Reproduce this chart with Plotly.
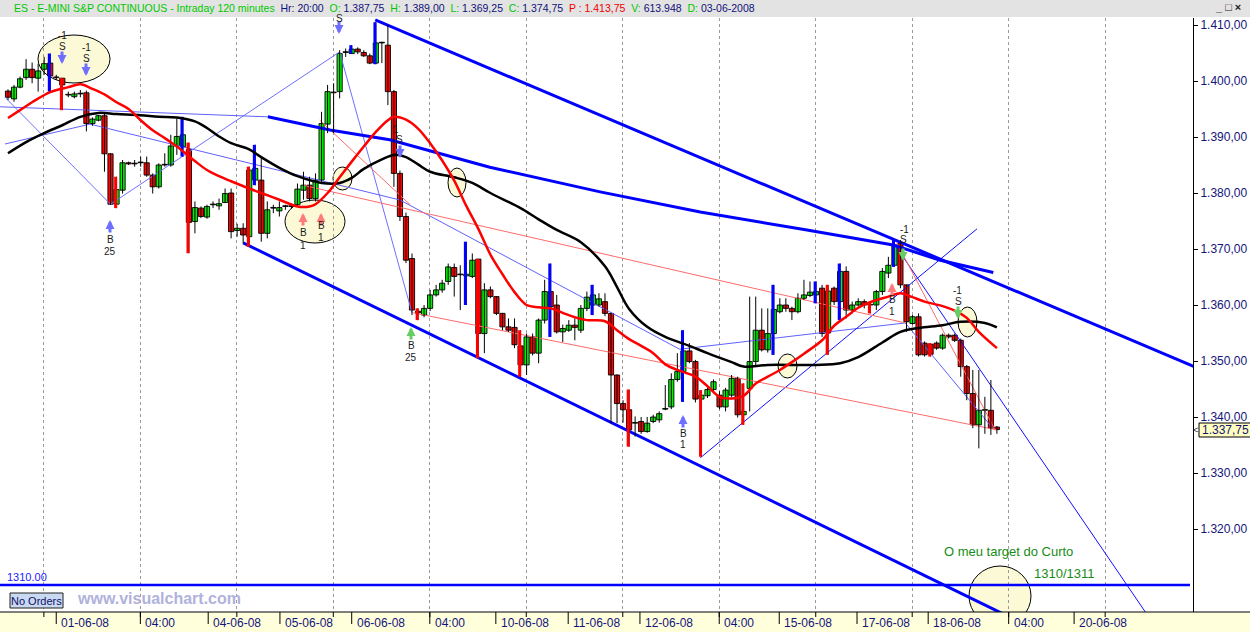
import plotly.graph_objects as go

# ---------------- DATA ----------------
opens = [1398.2,1396.8,1398.9,1400.6,1402.1,1400.5,1402.1,1403.2,1400.7,1400.5,
1397.6,1397.2,1397.7,1397.9,1392.4,1393.0,1393.8,1387.0,1378.0,1380.5,
1385.4,1385.2,1385.4,1385.4,1383.2,1381.1,1385.0,1385.0,1388.4,1388.3,
1387.75,1374.9,1377.3,1375.7,1377.9,1377.7,1378.3,1380.0,1373.3,1373.7,
1372.2,1382.3,1382.3,1372.8,1377.3,1376.8,1377.6,1377.6,1377.9,1380.5,
1381.4,1379.0,1382.3,1392.3,1398.0,1398.1,1405.1,1404.9,1405.7,1405.1,
1404.5,1403.2,1406.8,1406.4,1398.1,1383.5,1375.8,1368.3,1358.9,1358.2,
1359.4,1361.8,1362.7,1364.2,1366.7,1365.5,1365.2,1365.1,1368.2,1354.9,
1362.7,1361.5,1358.5,1356.1,1356.0,1352.7,1349.3,1354.3,1351.4,1357.3,
1362.4,1360.0,1355.2,1355.5,1356.4,1355.5,1359.4,1360.0,1360.0,1360.6,
1358.5,1347.5,1342.4,1341.3,1338.9,1339.2,1337.4,1339.2,1339.5,1341.4,
1341.8,1346.7,1348.1,1351.8,1349.9,1343.2,1343.8,1344.9,1343.9,1341.8,
1343.9,1346.9,1340.4,1345.1,1349.9,1355.5,1352.0,1354.9,1358.8,1360.0,
1359.4,1358.8,1361.2,1361.7,1361.8,1363.0,1355.0,1363.0,1360.6,1366.0,
1359.1,1360.0,1360.6,1360.0,1360.0,1362.4,1365.7,1367.1,1371.0,1363.6,
1356.7,1357.9,1353.2,1353.0,1353.2,1352.3,1354.6,1354.6,1353.7,1349.0,
1344.2,1338.6,1341.2,1341.2,1338.2]
highs = [1398.5,1399.3,1400.8,1403.9,1403.3,1403.1,1404.3,1404.9,1401.1,1400.5,
1398.1,1398.1,1398.4,1398.3,1393.5,1393.9,1394.2,1387.1,1382.9,1385.9,
1385.6,1385.9,1386.5,1386.5,1383.5,1385.3,1387.1,1390.4,1393.3,1393.6,
1389.0,1378.5,1377.6,1377.9,1378.5,1379.0,1380.8,1380.8,1374.5,1374.6,
1384.7,1388.6,1386.5,1378.5,1377.9,1378.5,1377.9,1378.2,1381.7,1383.8,
1382.9,1383.5,1394.5,1399.3,1399.6,1405.5,1405.8,1406.4,1406.0,1405.5,
1404.9,1410.5,1407.0,1410.0,1398.4,1384.0,1376.5,1369.2,1359.4,1360.0,
1362.7,1363.6,1364.5,1367.4,1367.4,1367.1,1371.3,1369.2,1368.2,1363.9,
1363.3,1361.6,1358.6,1357.6,1357.6,1355.5,1354.9,1354.9,1357.6,1364.5,
1367.4,1361.8,1356.5,1357.3,1357.6,1360.0,1362.4,1363.6,1362.1,1362.1,
1358.6,1347.6,1343.0,1344.9,1340.1,1340.0,1340.0,1340.4,1341.0,1345.7,
1347.8,1351.4,1355.5,1353.2,1350.2,1344.8,1345.2,1346.7,1344.6,1345.2,
1347.5,1347.2,1346.0,1361.5,1361.5,1359.4,1359.4,1363.6,1361.2,1361.2,
1359.7,1362.1,1364.5,1364.2,1364.2,1363.6,1363.6,1363.3,1367.4,1366.9,
1360.6,1361.2,1361.0,1360.6,1362.7,1366.6,1368.6,1371.6,1371.6,1363.6,
1358.2,1358.5,1353.5,1353.2,1353.5,1354.9,1354.9,1354.9,1354.0,1349.3,
1348.4,1348.4,1343.6,1346.6,1338.4]
lows = [1396.6,1396.3,1398.7,1400.2,1399.6,1398.1,1401.1,1398.1,1400.2,1394.8,
1397.1,1396.9,1397.1,1391.0,1392.0,1392.8,1383.8,1377.9,1377.3,1379.9,
1385.0,1384.7,1384.7,1382.9,1379.9,1380.8,1384.7,1384.7,1386.8,1386.5,
1369.25,1372.8,1375.5,1375.4,1377.3,1377.0,1378.2,1371.9,1372.2,1371.0,
1370.4,1381.4,1371.3,1371.9,1376.4,1375.8,1377.0,1377.2,1377.6,1378.8,
1378.5,1378.5,1381.7,1390.7,1390.7,1396.9,1404.3,1404.9,1404.8,1404.3,
1403.0,1403.0,1403.2,1395.7,1381.1,1375.0,1367.5,1358.2,1357.3,1357.8,
1358.9,1361.5,1362.2,1363.6,1361.5,1359.1,1360.0,1364.8,1350.5,1351.4,
1361.2,1358.2,1355.5,1355.2,1352.3,1347.2,1347.5,1351.0,1349.6,1356.7,
1354.3,1354.9,1353.4,1355.2,1353.7,1355.0,1358.9,1358.2,1359.7,1358.0,
1338.9,1338.9,1339.0,1334.7,1336.5,1337.0,1337.2,1338.9,1339.0,1341.2,
1341.4,1346.3,1342.7,1349.6,1342.6,1332.9,1343.4,1344.6,1341.4,1341.0,
1343.5,1339.9,1338.6,1341.0,1349.0,1351.7,1351.5,1351.1,1358.5,1358.8,
1357.3,1358.5,1360.9,1361.4,1360.3,1354.3,1351.1,1360.0,1357.3,1357.6,
1358.5,1359.7,1359.4,1358.5,1359.1,1361.8,1364.8,1366.8,1363.0,1355.2,
1356.5,1350.8,1350.8,1350.8,1352.0,1352.0,1354.0,1353.4,1347.2,1343.0,
1338.0,1334.4,1337.0,1336.8,1337.0]
closes = [1397.1,1398.9,1400.4,1402.1,1400.6,1401.8,1403.1,1400.9,1400.6,1399.3,
1397.5,1397.7,1397.7,1392.4,1393.2,1393.8,1387.0,1378.0,1380.6,1385.4,
1385.2,1385.2,1385.4,1383.2,1381.1,1385.0,1385.0,1388.4,1390.1,1390.4,
1374.75,1377.4,1375.8,1377.6,1377.9,1378.1,1379.9,1373.1,1373.7,1372.5,
1384.1,1384.4,1372.8,1377.0,1377.3,1377.4,1377.6,1377.6,1380.7,1381.4,
1379.0,1382.3,1392.4,1398.1,1397.9,1404.9,1405.1,1405.7,1405.2,1404.5,
1403.2,1406.8,1406.8,1398.1,1383.5,1375.8,1368.0,1359.1,1358.6,1359.4,
1361.8,1362.7,1363.9,1366.8,1365.1,1365.4,1365.5,1368.0,1354.9,1362.7,
1361.5,1358.5,1356.1,1355.5,1352.9,1349.3,1354.3,1351.4,1357.3,1362.4,
1359.7,1355.2,1355.8,1356.4,1356.0,1359.4,1361.4,1361.8,1361.1,1358.5,
1347.5,1342.4,1341.3,1337.7,1339.0,1337.4,1338.9,1340.0,1340.6,1341.5,
1346.7,1348.1,1351.8,1349.9,1343.2,1343.9,1344.9,1346.3,1341.8,1344.8,
1346.9,1340.4,1341.0,1349.9,1355.5,1352.0,1354.9,1359.2,1360.0,1359.4,
1358.8,1361.2,1361.8,1362.3,1362.4,1354.9,1362.5,1360.6,1366.0,1359.1,
1360.0,1360.6,1360.0,1360.1,1362.4,1366.0,1367.1,1370.7,1363.6,1357.0,
1357.9,1351.1,1351.1,1351.2,1352.3,1354.6,1354.3,1353.7,1349.0,1344.2,
1338.6,1341.2,1341.3,1338.0,1337.75]

blue_mark_bars = [7, 29, 41, 57, 61, 76, 90, 97, 112, 127, 134, 138, 147]
red_mark_bars = [9, 18, 30, 40, 68, 78, 85, 103, 115, 122, 136, 143, 153]

ma_red_x = [0,2,4,7,10,12,14,16,18,20,22,24,26,28,31,33,35,37,40,42,45,48,50,51,53,55,57,59,61,63,64,66,68,70,72,74,76,78,80,82,84,86,88,90,92,94,96,99,101,103,105,107,109,111,114,116,118,120,122,124,126,128,130,132,135,137,139,141,143,146,148,150,152,155,157,159,161,164]
ma_red_y = [1393.4,1394.8,1396.2,1398.0,1398.9,1399.4,1398.6,1397.6,1396.2,1395.0,1393.0,1391.2,1389.8,1388.3,1385.7,1384.1,1383.0,1382.1,1380.8,1380.0,1378.8,1377.6,1377.6,1378.0,1380.0,1382.8,1385.6,1388.3,1390.9,1393.0,1393.6,1393.1,1391.5,1388.9,1385.8,1382.2,1377.7,1373.6,1369.0,1365.5,1362.3,1360.0,1359.6,1359.4,1358.6,1357.8,1357.3,1357.1,1355.5,1353.9,1352.7,1351.4,1349.4,1348.4,1347.2,1345.5,1343.6,1343.3,1343.8,1346.0,1347.2,1348.4,1349.8,1351.3,1353.7,1356.3,1357.9,1359.5,1360.5,1361.5,1362.1,1361.4,1360.6,1359.8,1359.0,1357.7,1355.2,1352.3]
ma_black_x = [0,3,6,9,12,15,18,22,25,28,31,33,35,37,40,42,45,48,52,55,57,59,62,64,66,68,70,74,77,80,85,88,91,95,99,101,103,106,109,113,116,120,122,126,134,138,141,145,148,151,155,158,162,164]
ma_black_y = [1387.1,1389.1,1390.7,1392.1,1393.6,1394.3,1394.1,1393.9,1393.6,1393.5,1392.8,1391.6,1390.1,1388.9,1387.8,1386.4,1384.5,1383.0,1381.8,1381.8,1382.7,1384.3,1386.0,1386.8,1386.4,1385.1,1383.8,1382.8,1381.8,1380.0,1377.3,1375.3,1373.4,1371.2,1366.9,1363.2,1359.3,1356.1,1354.3,1352.7,1351.4,1349.8,1349.0,1349.3,1349.3,1349.6,1350.7,1353.3,1355.2,1355.9,1356.4,1357.0,1356.8,1356.0]
ma_blue_x = [43.1,53.4,63.3,79.9,98.2,114.8,132.5,146.8,154.6,163.4]
ma_blue_y = [1393.6,1391.25,1389.5,1384.6,1380.2,1376.6,1373.4,1370.7,1368.0,1365.8]

channel_upper_x = [60.9, 200.0]
channel_upper_y = [1410.9, 1347.5]
channel_lower_x = [39.0, 175.0]
channel_lower_y = [1371.1, 1299.6]

zigzag_x = [-0.5, 17.0, 55.0, 67.0]
zigzag_y = [1397.1, 1378.0, 1405.2, 1358.6]
thin_lead_x = [-1.4, 43.1]
thin_lead_y = [1395.4, 1393.6]
thin_path_x = [-0.5, 13.6, 65.0, 111.4, 148.8, 163.3]
thin_path_y = [1388.75, 1392.3, 1378.75, 1352.1, 1356.8, 1338.0]
rising_x = [114.8, 160.7]
rising_y = [1332.7, 1373.6]
steep_x = [147.1, 188.6]
steep_y = [1370.7, 1305.2]
red_lines = [([67.2, 164.0], [1358.6, 1337.7]),
             ([48.9, 148.8], [1381.4, 1356.8]),
             ([147.4, 163.7], [1371.1, 1337.7]),
             ([51.7, 66.7], [1393.0, 1377.9])]

target_level = 1310.0
last_price = 1337.75
y_ticks = [1320, 1330, 1340, 1350, 1360, 1370, 1380, 1390, 1400, 1410]
y_ticktext = ["1.320,00", "1.330,00", "1.340,00", "1.350,00", "1.360,00",
              "1.370,00", "1.380,00", "1.390,00", "1.400,00", "1.410,00"]
x_label_pos = [8.0, 21.95, 33.2, 45.1, 57.0, 69.95, 80.9, 92.9, 104.8, 117.95, 127.9, 140.8, 152.6, 165.95, 176.8]
x_label_text = ["01-06-08", "04:00", "04-06-08", "05-06-08", "06-06-08", "04:00", "10-06-08",
                "11-06-08", "12-06-08", "04:00", "15-06-08", "17-06-08", "18-06-08", "04:00", "20-06-08"]
grid_bars = [5.95, 21.95, 37.95, 53.95, 69.95, 85.95, 101.95, 117.95, 133.95, 149.95, 165.95, 181.95]

# ---------------- GEOMETRY ----------------
W, H = 1250, 632
ML, MR, MT, MB = 0, 57, 18, 20
PW, PH = W - ML - MR, H - MT - MB
PXB = 6.03   # px per bar
PXP = 5.6    # px per point
X0 = -8 / PXB
X1 = X0 + PW / PXB
Y1 = 1410 + (25 - MT) / PXP
Y0 = Y1 - PH / PXP

def dx(px):
    return X0 + (px - ML) / PXB

def dy(py):
    return Y1 - (py - MT) / PXP

def ppx(px):
    return (px - ML) / PW

def ppy(py):
    return (H - MB - py) / PH

FONT = "Arial, Liberation Sans, sans-serif"
NAVY = "#14147a"

fig = go.Figure()

def add_line(xs, ys, color, width, shape="linear"):
    fig.add_trace(go.Scatter(x=xs, y=ys, mode="lines", line=dict(color=color, width=width, shape=shape),
                             hoverinfo="skip", showlegend=False))

# thin drawing lines
add_line(zigzag_x, zigzag_y, "#7070ff", 1)
add_line(thin_lead_x, thin_lead_y, "#6060ff", 1)
add_line(thin_path_x, thin_path_y, "#6060ff", 1)
add_line(rising_x, rising_y, "#1010ff", 1)
add_line(steep_x, steep_y, "#1010ff", 1)
for xs, ys in red_lines:
    add_line(xs, ys, "#ff6a6a", 1)

# channel
add_line(channel_upper_x, channel_upper_y, "#0000ff", 3)
add_line(channel_lower_x, channel_lower_y, "#0000ff", 3)
add_line(ma_blue_x, ma_blue_y, "#0000ff", 3)

# candles: wicks
n = len(opens)
wx, wy = [], []
for i in range(n):
    hi = max(highs[i], opens[i], closes[i])
    lo = min(lows[i], opens[i], closes[i])
    wx += [i, i, None]
    wy += [lo, hi, None]
fig.add_trace(go.Scatter(x=wx, y=wy, mode="lines", line=dict(color="black", width=1),
                         hoverinfo="skip", showlegend=False))
# bodies
bases, heights, cols = [], [], []
for i in range(n):
    o, c = opens[i], closes[i]
    bases.append(min(o, c))
    heights.append(max(abs(c - o), 0.12))
    cols.append("#00f000" if c > o else ("#ff0000" if c < o else "black"))
fig.add_trace(go.Bar(x=list(range(n)), y=heights, base=bases, width=0.86, opacity=1,
                     marker=dict(color=cols, opacity=1, line=dict(color="black", width=0.9)),
                     hoverinfo="skip", showlegend=False))

# painted bar marks
def marks(idx, color):
    mx, my = [], []
    for i in idx:
        mx += [i - 0.15, i - 0.15, None]
        my += [lows[i], highs[i], None]
    fig.add_trace(go.Scatter(x=mx, y=my, mode="lines", line=dict(color=color, width=3),
                             hoverinfo="skip", showlegend=False))
marks(blue_mark_bars, "#0000ff")
marks(red_mark_bars, "#ff0000")

# moving averages
add_line(ma_black_x, ma_black_y, "black", 2.5, "spline")
add_line(ma_red_x, ma_red_y, "#ff0000", 2.5, "spline")

shapes = []
# ellipses (px boxes)
for (a, b, c, d) in [(38, 35, 110, 83), (285, 200, 345, 243), (333, 167, 352, 190), (448, 168, 466, 197),
                     (778, 354, 797, 378), (958, 307, 977, 337), (969, 566, 1031, 626)]:
    shapes.append(dict(type="circle", xref="x", yref="y", x0=dx(a), x1=dx(c), y0=dy(d), y1=dy(b),
                       fillcolor="#fbf9d6", line=dict(color="black", width=1), layer="below"))
# target line
shapes.append(dict(type="line", xref="x", yref="y", x0=X0, x1=dx(1190), y0=target_level, y1=target_level,
                   line=dict(color="#0000ff", width=2.5)))
# header bar
shapes.append(dict(type="rect", xref="paper", yref="paper", x0=ppx(0), x1=ppx(W), y0=ppy(17), y1=ppy(0),
                   fillcolor="#e3e3e3", line=dict(width=0), layer="above"))
# bottom band
shapes.append(dict(type="rect", xref="paper", yref="paper", x0=ppx(0), x1=ppx(W), y0=ppy(H), y1=ppy(612.5),
                   fillcolor="#ffffdc", line=dict(width=0), layer="above"))
shapes.append(dict(type="line", xref="paper", yref="paper", x0=ppx(0), x1=ppx(W), y0=ppy(612), y1=ppy(612),
                   line=dict(color="black", width=1), layer="above"))
# axis ticks in band
for g in grid_bars:
    shapes.append(dict(type="line", xref="x", yref="paper", x0=g, x1=g, y0=ppy(612), y1=ppy(617),
                       line=dict(color="black", width=1), layer="above"))
for p in x_label_pos:
    shapes.append(dict(type="line", xref="x", yref="paper", x0=p, x1=p, y0=ppy(612), y1=ppy(624),
                       line=dict(color="black", width=1), layer="above"))
# no orders box
shapes.append(dict(type="rect", xref="paper", yref="paper", x0=ppx(10), x1=ppx(63), y0=ppy(608), y1=ppy(593),
                   fillcolor="#c9d9ef", line=dict(color="#202020", width=1), layer="above"))
# price tag
shapes.append(dict(type="rect", xref="paper", yref="paper", x0=ppx(1199), x1=ppx(1252), y0=ppy(437), y1=ppy(423),
                   fillcolor="#ffffc0", line=dict(color="black", width=1), layer="above"))

ann = []
def txt(px, py, s, size=10, color="#1a1a1a", anchor="center", bold=False):
    ann.append(dict(xref="paper", yref="paper", x=ppx(px), y=ppy(py), text=("<b>%s</b>" % s) if bold else s,
                    showarrow=False, xanchor=anchor, yanchor="middle",
                    font=dict(family=FONT, size=size, color=color)))

def arrow(px, tip, color, down=True):
    ann.append(dict(xref="paper", yref="paper", x=ppx(px), y=ppy(tip), ax=0, ay=(-14 if down else 14),
                    text="", showarrow=True, arrowhead=2, arrowsize=0.6, arrowwidth=3, arrowcolor=color))

# header
g, nv, rd = "#00c800", "#10107a", "#ee0000"
sp = "\u00a0"
header = ("<span style='color:%s'>ES - E-MINI S&amp;P CONTINUOUS - Intraday 120 minutes</span>%s"
          "<span style='color:%s'>Hr: 20:00</span>%s"
          "<span style='color:%s'>O:</span> <span style='color:%s'>1.387,75</span>%s"
          "<span style='color:%s'>H:</span> <span style='color:%s'>1.389,00</span>%s"
          "<span style='color:%s'>L:</span> <span style='color:%s'>1.369,25</span>%s"
          "<span style='color:%s'>C:</span> <span style='color:%s'>1.374,75</span>%s"
          "<span style='color:%s'>P : 1.413,75</span>%s"
          "<span style='color:%s'>V:</span> <span style='color:%s'>613.948</span>%s"
          "<span style='color:%s'>D:</span> <span style='color:%s'>03-06-2008</span>") % (
    g, sp * 2, nv, sp * 2, g, nv, sp * 2, g, nv, sp * 2, g, nv, sp * 2, g, nv, sp * 2, rd, sp * 2,
    g, nv, sp * 2, g, nv)
txt(12, 8.5, header, size=10.5, anchor="left")
txt(1228, 7, "<b>_ □ ×</b>", size=11, color="#222222")

# signals
for px, tip in [(62, 64), (86, 76), (339, 34), (400, 158)]:
    arrow(px, tip, "#6f6fff", True)
for px, tip in [(110, 220), (683, 415)]:
    arrow(px, tip, "#6f6fff", False)
for px, tip in [(303, 213), (321, 213), (892, 283)]:
    arrow(px, tip, "#ff7a7a", False)
arrow(411, 327, "#66cc66", False)
for px, tip in [(903, 261), (958, 319)]:
    arrow(px, tip, "#66cc66", True)

for px, py, s in [(62, 35, "-1"), (62, 46, "S"), (86, 47, "-1"), (86, 58, "S"), (339, 18, "S"),
                  (396, 129, "1"), (399, 140, "S"), (110, 240, "B"), (110, 251, "25"),
                  (303, 232, "B"), (303, 245, "1"), (321, 226, "B"), (321, 237, "1"),
                  (411, 345, "B"), (411, 357, "25"), (683, 433, "B"), (683, 444, "1"),
                  (892, 300, "B"), (892, 311, "1"), (904, 229, "-1"), (903, 240, "S"),
                  (957, 290, "-1"), (958, 301, "S")]:
    txt(px, py, s, size=10)

# bottom texts
txt(5, 577, "1310.00", size=11, color="#1a1aff", anchor="left")
txt(36, 600.5, "No Orders", size=11, color="#10106a")
txt(75, 598, "www.visualchart.com", size=16, color="#b0b2dc", anchor="left", bold=True)
txt(942, 551, "O meu target do Curto", size=13, color="#168c16", anchor="left")
txt(1032, 573, "1310/1311", size=13, color="#168c16", anchor="left")
txt(1200, 430, "1.337,75", size=12, color=NAVY, anchor="left")
txt(1195.5, 430, "<", size=9, color="#222222")

for p, s in zip(x_label_pos, x_label_text):
    ann.append(dict(xref="x", yref="paper", x=p + 3 / PXB, y=ppy(623), text=s, showarrow=False,
                    xanchor="left", yanchor="middle", font=dict(family=FONT, size=12, color=NAVY)))

fig.update_layout(
    width=W, height=H, margin=dict(l=ML, r=MR, t=MT, b=MB, pad=0),
    paper_bgcolor="white", plot_bgcolor="white", showlegend=False, barmode="overlay",
    xaxis=dict(range=[X0, X1], tickvals=grid_bars, showticklabels=False, ticks="",
               showgrid=True, gridcolor="#9a9a9a", griddash="dot", gridwidth=1,
               zeroline=False, showline=False, fixedrange=True),
    yaxis=dict(range=[Y0, Y1], side="right", tickvals=y_ticks, ticktext=y_ticktext,
               ticks="outside", ticklen=4, tickcolor="black", showgrid=False, zeroline=False,
               showline=True, linecolor="black", linewidth=1,
               tickfont=dict(family=FONT, size=12, color=NAVY), fixedrange=True),
    shapes=shapes, annotations=ann, hovermode=False,
)

fig.write_html("out.html", config={"displayModeBar": False},
               post_script="document.body.style.margin='0px';document.body.style.overflow='hidden';")
